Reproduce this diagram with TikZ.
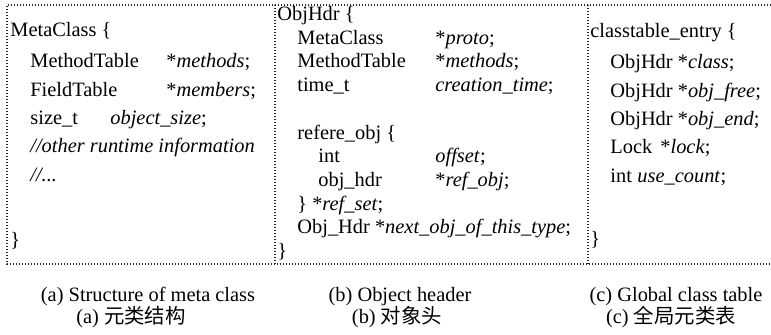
\documentclass[tikz,border=0pt]{standalone}
\usepackage{fontspec}
\setmainfont{Liberation Serif}
\newfontfamily\cjk{Noto Sans CJK SC}

\begin{document}
\begin{tikzpicture}[
  x=0.5pt, y=-0.5pt,
  frame/.style={line width=0.7pt, dash pattern=on 0.7pt off 0.8pt, black!85},
  code/.style={anchor=base west, inner sep=0pt, font=\fontsize{10.2}{12}\selectfont},
  caption/.style={anchor=base, inner sep=0pt, font=\fontsize{10.2}{12}\selectfont}
]
\useasboundingbox (0,0) rectangle (771,335);

% dotted frame and the two dividers
\coordinate (tl) at (7,5);   \coordinate (bl) at (7,264);
\coordinate (tr) at (771,5); \coordinate (br) at (771,264);
\draw[frame] (tr) -- (tl) -- (bl) -- (br);
\draw[frame] (275,5) -- (275,264);
\draw[frame] (588,5) -- (588,264);

% (a) meta class
\node[code] (mcHead)  at (10,37)  {MetaClass \{};
\node[code] (mcMT)    at (30,68)  {MethodTable};
\node[code] (mcMTv)   at (166,68) {*\textit{methods};};
\node[code] (mcFT)    at (30,97)  {FieldTable};
\node[code] (mcFTv)   at (166,97) {*\textit{members};};
\node[code] (mcSz)    at (30,125) {size\_t};
\node[code] (mcSzv)   at (110,125) {\textit{object\_size};};
\node[code] (mcNote)  at (30,153) {\textit{//other runtime information}};
\node[code] (mcMore)  at (30,182) {\textit{//...}};
\node[code] (mcEnd)   at (10,247) {\}};

% (b) object header
\node[code] (ohHead)  at (277,21)  {ObjHdr \{};
\node[code] (ohMC)    at (297,45)  {MetaClass};
\node[code] (ohMCv)   at (435,45)  {*\textit{proto};};
\node[code] (ohMT)    at (297,68)  {MethodTable};
\node[code] (ohMTv)   at (435,68)  {*\textit{methods};};
\node[code] (ohTm)    at (297,92)  {time\_t};
\node[code] (ohTmv)   at (435,92)  {\textit{creation\_time};};
\node[code] (ohRef)   at (297,140) {refere\_obj \{};
\node[code] (ohOff)   at (318,163) {int};
\node[code] (ohOffv)  at (435,163) {\textit{offset};};
\node[code] (ohObj)   at (318,187) {obj\_hdr};
\node[code] (ohObjv)  at (435,187) {*\textit{ref\_obj};};
\node[code] (ohSet)   at (297,211) {\} *\textit{ref\_set};};
\node[code] (ohNext)  at (297,234) {Obj\_Hdr *\textit{next\_obj\_of\_this\_type};};
\node[code] (ohEnd)   at (277,258) {\}};

% (c) global class table
\node[code] (ctHead)  at (590,38)  {classtable\_entry \{};
\node[code] (ctCls)   at (610,69)  {ObjHdr *\textit{class};};
\node[code] (ctFree)  at (610,98)  {ObjHdr *\textit{obj\_free};};
\node[code] (ctLast)  at (610,126) {ObjHdr *\textit{obj\_end};};
\node[code] (ctLock)  at (610,154) {Lock};
\node[code] (ctLockv) at (660,154) {*\textit{lock};};
\node[code] (ctUse)   at (610,183) {int};
\node[code] (ctUsev)  at (637,183) {\textit{use\_count};};
\node[code] (ctEnd)   at (590,246) {\}};

% captions
\node[caption] (capA)  at (148,302) {(a) Structure of meta class};
\node[caption] (capB)  at (400,302) {(b) Object header};
\node[caption] (capC)  at (676,302) {(c) Global class table};
\node[caption] (zhA)   at (131,324) {(a)\ {\cjk 元类结构}};
\node[caption] (zhB)   at (397,324) {(b)\ {\cjk 对象头}};
\node[caption] (zhC)   at (671,324) {(c)\ {\cjk 全局元类表}};
\end{tikzpicture}
\end{document}
